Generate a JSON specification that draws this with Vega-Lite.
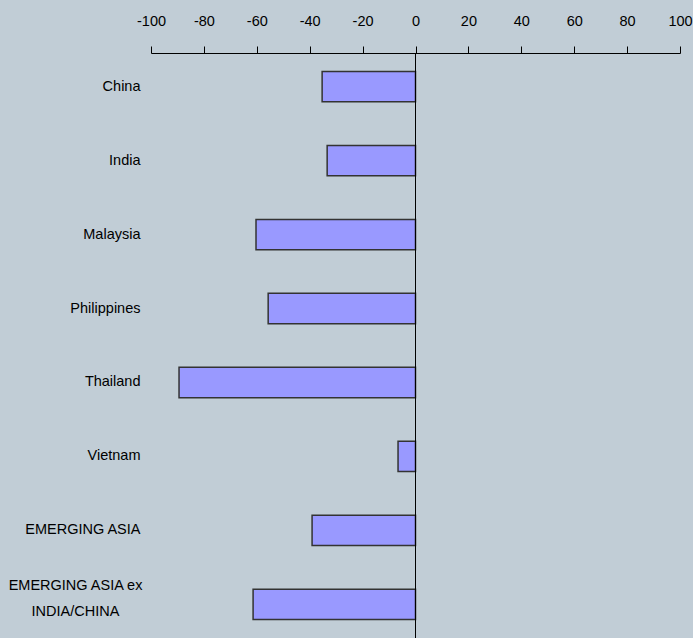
{
  "$schema": "https://vega.github.io/schema/vega-lite/v6.json",
  "autosize": {"type": "none"},
  "width": 529,
  "height": 585,
  "padding": {"left": 151, "top": 53, "right": 13, "bottom": 0},
  "background": "#C1CDD6",
  "config": {"view": {"stroke": null}, "font": "Liberation Sans"},
  "layer": [
    {
      "data": {
        "values": [
          {"country": "China", "value": -35.3},
          {"country": "India", "value": -33.4},
          {"country": "Malaysia", "value": -60.3},
          {"country": "Philippines", "value": -55.7},
          {"country": "Thailand", "value": -89.4},
          {"country": "Vietnam", "value": -6.6},
          {"country": "EMERGING ASIA", "value": -39.1},
          {"country": "EMERGING ASIA ex INDIA/CHINA", "value": -61.4}
        ]
      },
      "mark": {"type": "bar", "color": "#9999FF", "stroke": "#333333", "strokeWidth": 1.5},
      "encoding": {
        "y": {
          "field": "country",
          "type": "nominal",
          "sort": null,
          "scale": {"paddingInner": 0.59, "paddingOuter": 0.25},
          "axis": {
            "title": null,
            "domain": false,
            "ticks": false,
            "labelPadding": {"condition": {"test": "datum.value == 'EMERGING ASIA ex INDIA/CHINA'", "value": 76}, "value": 11},
            "labelAlign": {"condition": {"test": "datum.value == 'EMERGING ASIA ex INDIA/CHINA'", "value": "center"}, "value": "right"},
            "labelFont": "Liberation Sans",
            "labelFontSize": 14.5,
            "labelColor": "#000000",
            "labelLimit": 300,
            "labelLineHeight": 26,
            "labelOffset": {"condition": {"test": "datum.value == 'EMERGING ASIA ex INDIA/CHINA'", "value": -18}, "value": 0},
            "labelExpr": "datum.value == 'EMERGING ASIA ex INDIA/CHINA' ? ['EMERGING ASIA ex', 'INDIA/CHINA'] : datum.label"
          }
        },
        "x": {
          "field": "value",
          "type": "quantitative",
          "scale": {"domain": [-100, 100], "nice": false},
          "axis": {
            "orient": "top",
            "title": null,
            "grid": false,
            "values": [-100, -80, -60, -40, -20, 0, 20, 40, 60, 80, 100],
            "labelExpr": "datum.value + ''",
            "domainColor": "#000000",
            "domainWidth": 1,
            "tickColor": "#000000",
            "tickSize": 7,
            "tickWidth": 1,
            "labelPadding": 18,
            "labelFont": "Liberation Sans",
            "labelFontSize": 14.5,
            "labelColor": "#000000",
            "labelFlush": false,
            "labelOverlap": false
          }
        }
      }
    },
    {
      "data": {"values": [{"zero": 0}]},
      "mark": {"type": "rule", "color": "#000000", "strokeWidth": 1},
      "encoding": {"x": {"field": "zero", "type": "quantitative"}}
    }
  ]
}
